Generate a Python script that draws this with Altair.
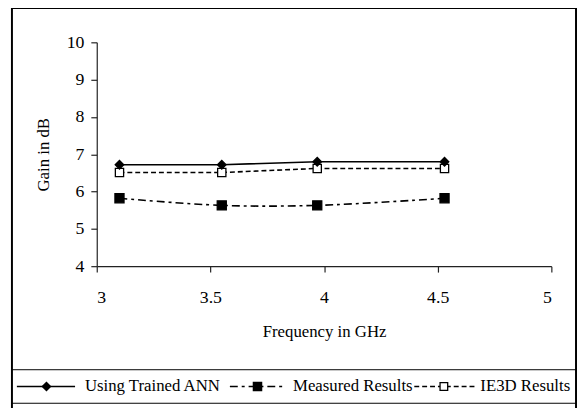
import altair as alt
import pandas as pd

freq = [3.1, 3.55, 3.97, 4.53]
ann = [6.72, 6.72, 6.8, 6.8]
measured = [5.82, 5.63, 5.63, 5.82]
ie3d = [6.51, 6.51, 6.62, 6.62]

series_names = ["Using Trained ANN", "Measured Results", "IE3D Results"]
x_ticks = [3, 3.5, 4, 4.5, 5]
y_ticks = [4, 5, 6, 7, 8, 9, 10]

FONT = "Liberation Serif"

df_ann = pd.DataFrame({"f": freq, "g": ann})
df_meas = pd.DataFrame({"f": freq, "g": measured})
df_ie = pd.DataFrame({"f": freq, "g": ie3d})

xs = alt.Scale(domain=[3, 5], nice=False, zero=False)
ys = alt.Scale(domain=[4, 10], nice=False, zero=False)

X = alt.X("f:Q", scale=xs, title="Frequency in GHz",
          axis=alt.Axis(values=x_ticks, format="~g", grid=False, labelFontSize=18))
Y = alt.Y("g:Q", scale=ys, title="Gain in dB",
          axis=alt.Axis(values=y_ticks, grid=False, labelFontSize=18))

def line(df, dash=None, interp="linear"):
    kw = dict(color="black", strokeWidth=1.6, interpolate=interp)
    if dash:
        kw["strokeDash"] = dash
    return alt.Chart(df).mark_line(**kw).encode(x=X, y=Y)

def pts(df, shape, fill, size):
    return alt.Chart(df).mark_point(shape=shape, filled=True, fill=fill, stroke="black",
                                    strokeWidth=1.3, size=size, opacity=1).encode(x=X, y=Y)

one = pd.DataFrame({"a": [0]})

def vrule(x, y1, y2, w=2):
    return alt.Chart(one).mark_rule(color="black", strokeWidth=w).encode(
        x=alt.value(x), y=alt.value(y1), y2=alt.value(y2))

def hrule(y, x1, x2, w=1.5, dash=None):
    kw = dict(color="black", strokeWidth=w)
    if dash:
        kw["strokeDash"] = dash
    return alt.Chart(one).mark_rule(**kw).encode(
        x=alt.value(x1), x2=alt.value(x2), y=alt.value(y))

def lsym(x, y, shape, fill, size):
    return alt.Chart(one).mark_point(shape=shape, filled=True, fill=fill, stroke="black",
                                     strokeWidth=1.3, size=size, opacity=1).encode(
        x=alt.value(x), y=alt.value(y))

def ltext(x, y, t):
    return alt.Chart(one).mark_text(text=t, align="left", baseline="middle", font=FONT,
                                    fontSize=17, color="black").encode(
        x=alt.value(x), y=alt.value(y))

# frame (relative to plot origin at page 98,40)
L, R, T, B = -86, 486, -35, 420
LY = 349
frame = [
    hrule(T, L, R, w=2.2),
    vrule(L, T, B),
    vrule(R, T, B),
    hrule(332, L, R, w=1),
    hrule(366, L, R, w=1),
]

legend = [
    hrule(LY, -81, -22, w=1.6), lsym(-51, LY, "diamond", "black", 70), ltext(-12, LY, series_names[0]),
    hrule(LY, 135, 189, w=1.6, dash=[8, 4, 3, 4]), lsym(163, LY, "square", "black", 70), ltext(199, LY, series_names[1]),
    hrule(LY, 322, 384, w=1.6, dash=[5, 3]), lsym(352, LY, "square", "white", 60), ltext(389, LY, series_names[2]),
]

chart = alt.layer(
    line(df_ie, dash=[5, 3]),
    line(df_meas, dash=[8, 4, 3, 4], interp="catmull-rom"),
    line(df_ann),
    pts(df_ie, "square", "white", 70),
    pts(df_meas, "square", "black", 85),
    pts(df_ann, "diamond", "black", 75),
    *frame,
    *legend,
).properties(
    width=461, height=227,
    autosize=alt.AutoSizeParams(type="none"),
    padding={"left": 90, "top": 32, "right": 26, "bottom": 141},
).configure_view(stroke=None).configure_axis(
    labelFont=FONT, titleFont=FONT, titleFontSize=17,
    labelColor="black", titleColor="black", titleFontWeight="normal",
    domainColor="#222", tickColor="#222", domainWidth=1.2, tickWidth=1.2, tickSize=6,
).configure_axisX(labelPadding=17, titlePadding=17).configure_axisY(
    labelPadding=7, titlePadding=14)

chart.save("out.html", embed_options={"renderer": "svg", "actions": False})
